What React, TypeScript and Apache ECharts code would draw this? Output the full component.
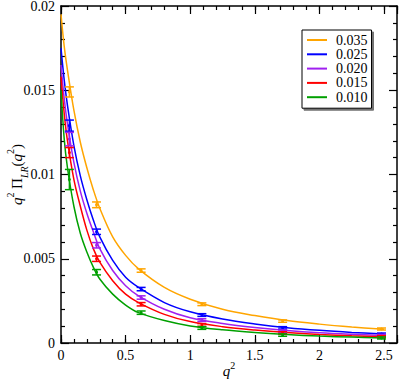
import React, { useEffect, useRef } from "react";
import * as echarts from "echarts";

// Fit curves (q^2 grid and values per mass)
const qFit = [0, 0.025, 0.05, 0.1, 0.15, 0.2, 0.25, 0.3, 0.4, 0.5, 0.6, 0.8, 1.0, 1.25, 1.5, 1.75, 2.0, 2.25, 2.5];
const fit035 = [0.0195, 0.0176, 0.0162, 0.0138, 0.0119, 0.0104, 0.0091, 0.008, 0.0063, 0.0052, 0.0044, 0.0033, 0.0026, 0.002, 0.00163, 0.00133, 0.00112, 0.00095, 0.00081];
const fit025 = [0.0175, 0.0156, 0.0141, 0.0117, 0.0099, 0.0085, 0.0073, 0.0063, 0.0049, 0.0039, 0.0033, 0.0024, 0.00185, 0.00142, 0.00113, 0.00091, 0.00075, 0.00063, 0.00054];
const fit020 = [0.0165, 0.0145, 0.013, 0.0107, 0.009, 0.0077, 0.0066, 0.0056, 0.0043, 0.0034, 0.0028, 0.002, 0.0015, 0.00116, 0.00092, 0.00074, 0.00061, 0.00052, 0.00045];
const fit015 = [0.0158, 0.0136, 0.012, 0.0097, 0.0081, 0.0067, 0.0056, 0.0048, 0.0037, 0.0029, 0.0024, 0.0017, 0.00127, 0.00097, 0.00077, 0.00062, 0.00051, 0.00043, 0.00037];
const fit010 = [0.015, 0.0121, 0.0104, 0.0081, 0.0065, 0.0054, 0.0045, 0.0038, 0.0029, 0.00225, 0.0018, 0.00133, 0.00101, 0.00078, 0.00062, 0.0005, 0.00041, 0.00035, 0.0003];

// Data points
const qData = [0.065, 0.275, 0.62, 1.09, 1.715, 2.48];
const val035 = [0.0149, 0.0082, 0.0043, 0.0023, 0.0013, 0.00083];
const err035 = [0.0003, 0.00017, 0.0001, 0.00008, 0.00007, 0.00006];
const val025 = [0.0129, 0.0066, 0.0032, 0.00166, 0.0009, 0.00053];
const err025 = [0.00033, 0.00016, 0.0001, 0.00008, 0.00007, 0.00006];
const val020 = [0.0121, 0.0058, 0.0027, 0.00136, 0.0007, 0.00045];
const err020 = [0.0004, 0.00016, 0.0001, 0.00008, 0.00007, 0.00006];
const val015 = [0.0113, 0.005, 0.0023, 0.00107, 0.0006, 0.00038];
const err015 = [0.0003, 0.00016, 0.0001, 0.00008, 0.00007, 0.00006];
const val010 = [0.0097, 0.0042, 0.0018, 0.00089, 0.00047, 0.0003];
const err010 = [0.0006, 0.00016, 0.0001, 0.00008, 0.00007, 0.00006];

const names = ["0.035", "0.025", "0.020", "0.015", "0.010"];
const colors = ["#FFA500", "#0000FF", "#A020F0", "#FF0000", "#00A000"];
const fits = [fit035, fit025, fit020, fit015, fit010];
const vals = [val035, val025, val020, val015, val010];
const errs = [err035, err025, err020, err015, err010];

const FONT = "'Liberation Serif', 'Times New Roman', serif";

export default function App() {
  const ref = useRef<HTMLDivElement>(null);
  useEffect(() => {
    if (!ref.current) return;
    const chart = echarts.init(ref.current, undefined, { renderer: "svg" });
    const xCommon = { type: "value", min: 0, max: 2.6 } as any;
    const lineSeries = names.map((n, i) => ({
      name: n,
      type: "line",
      xAxisIndex: 0,
      yAxisIndex: 0,
      data: qFit.map((q, k) => [q, fits[i][k]]),
      smooth: 0.35,
      showSymbol: false,
      symbol: "none",
      lineStyle: { color: colors[i], width: 1.5 },
      itemStyle: { color: colors[i] },
      z: 2,
    }));
    const errSeries = names.map((n, i) => ({
      type: "custom",
      xAxisIndex: 0,
      yAxisIndex: 0,
      data: qData.map((q, k) => [q, vals[i][k], errs[i][k]]),
      z: 3,
      renderItem: (params: any, api: any) => {
        const x = api.value(0);
        const y = api.value(1);
        const e = api.value(2);
        const t = api.coord([x, y + e]);
        const b = api.coord([x, y - e]);
        const c = api.coord([x, y]);
        const hw = 4.5;
        const st = { stroke: colors[i], lineWidth: 1.5, fill: null };
        return {
          type: "group",
          children: [
            { type: "line", shape: { x1: t[0], y1: t[1], x2: b[0], y2: b[1] }, style: st },
            { type: "line", shape: { x1: t[0] - hw, y1: t[1], x2: t[0] + hw, y2: t[1] }, style: st },
            { type: "line", shape: { x1: b[0] - hw, y1: b[1], x2: b[0] + hw, y2: b[1] }, style: st },
            { type: "circle", shape: { cx: c[0], cy: c[1], r: 1.5 }, style: { fill: colors[i] } },
          ],
        };
      },
    }));
    const labelFmt = (v: number) => {
      const r = Math.round(v * 2);
      if (Math.abs(v * 2 - r) > 1e-6) return "";
      if (v > 2.55) return "";
      return String(r / 2);
    };
    const option: any = {
      animation: false,
      textStyle: { fontFamily: FONT },
      grid: { left: 61, top: 6, right: 2, bottom: 38, show: false, containLabel: false, outerBoundsMode: "none" },
      legend: {
        left: 302,
        top: 30,
        orient: "vertical",
        data: names.map((n) => ({ name: n, icon: "rect" })),
        itemWidth: 20,
        itemHeight: 2,
        itemGap: 0.3,
        padding: [3, 4, 4, 5],
        backgroundColor: "#fff",
        borderColor: "#000",
        borderWidth: 1,
        borderRadius: 0,
        shadowColor: "rgba(0,0,0,0.55)",
        shadowBlur: 1,
        shadowOffsetX: 2,
        shadowOffsetY: 2,
        textStyle: { fontFamily: FONT, fontSize: 14, color: "#000", lineHeight: 14, padding: [0, 0, 0, 4] },
      },
      xAxis: [
        {
          ...xCommon,
          position: "bottom",
          interval: 0.1,
          splitLine: { show: false },
          axisLine: { show: true, onZero: false, lineStyle: { color: "#000", width: 1.5 } },
          axisTick: { show: true, inside: true, length: 4, lineStyle: { color: "#000", width: 1.2 } },
          axisLabel: { formatter: labelFmt, fontFamily: FONT, fontSize: 14, color: "#000", margin: 5 },
          name: "{i|q}{s|2}",
          nameLocation: "middle",
          nameGap: 17,
          nameMoveOverlap: false,
          nameTextStyle: {
            rich: {
              i: { fontFamily: FONT, fontStyle: "italic", fontSize: 15, color: "#000", lineHeight: 22, verticalAlign: "middle" },
              s: { fontFamily: FONT, fontSize: 10, color: "#000", lineHeight: 10, verticalAlign: "top" },
            },
          },
        },
        {
          ...xCommon,
          position: "bottom",
          interval: 0.5,
          splitLine: { show: false },
          axisLine: { show: false, onZero: false },
          axisTick: { show: true, inside: true, length: 8, lineStyle: { color: "#000", width: 1.2 } },
          axisLabel: { show: false },
        },
        {
          ...xCommon,
          position: "top",
          interval: 0.1,
          splitLine: { show: false },
          axisLine: { show: true, onZero: false, lineStyle: { color: "#000", width: 1.5 } },
          axisTick: { show: true, inside: true, length: 4, lineStyle: { color: "#000", width: 1.2 } },
          axisLabel: { show: false },
        },
        {
          ...xCommon,
          position: "top",
          interval: 0.5,
          splitLine: { show: false },
          axisLine: { show: false, onZero: false },
          axisTick: { show: true, inside: true, length: 8, lineStyle: { color: "#000", width: 1.2 } },
          axisLabel: { show: false },
        },
      ],
      yAxis: [
        {
          type: "value",
          min: 0,
          max: 0.02,
          interval: 0.005,
          position: "left",
          splitLine: { show: false },
          axisLine: { show: true, onZero: false, lineStyle: { color: "#000", width: 1.5 } },
          axisTick: { show: true, inside: true, length: 8, lineStyle: { color: "#000", width: 1.2 } },
          minorTick: { show: true, splitNumber: 5, length: 4, lineStyle: { color: "#000", width: 1.2 } },
          axisLabel: { fontFamily: FONT, fontSize: 14, color: "#000", margin: 6 },
          name: "{i|q}{s|2}{n| Π}{b|LR}{n|(}{i|q}{s|2}{n|)}",
          nameLocation: "middle",
          nameRotate: 90,
          nameGap: 32,
          nameMoveOverlap: false,
          nameTextStyle: {
            rich: {
              i: { fontFamily: FONT, fontStyle: "italic", fontSize: 15, color: "#000", lineHeight: 24, verticalAlign: "middle" },
              n: { fontFamily: FONT, fontSize: 15, color: "#000", lineHeight: 24, verticalAlign: "middle" },
              s: { fontFamily: FONT, fontSize: 10, color: "#000", lineHeight: 10, verticalAlign: "top" },
              b: { fontFamily: FONT, fontStyle: "italic", fontSize: 10, color: "#000", lineHeight: 10, verticalAlign: "bottom" },
            },
          },
        },
        {
          type: "value",
          min: 0,
          max: 0.02,
          interval: 0.005,
          position: "right",
          splitLine: { show: false },
          axisLine: { show: true, onZero: false, lineStyle: { color: "#000", width: 1.5 } },
          axisTick: { show: true, inside: true, length: 8, lineStyle: { color: "#000", width: 1.2 } },
          minorTick: { show: true, splitNumber: 5, length: 4, lineStyle: { color: "#000", width: 1.2 } },
          axisLabel: { show: false },
        },
      ],
      series: [...lineSeries, ...errSeries],
    };
    chart.setOption(option);
    return () => chart.dispose();
  }, []);
  return (
    <div
      ref={ref}
      style={{ position: "fixed", left: 0, top: 0, width: 399, height: 381, background: "#fff" }}
    />
  );
}
